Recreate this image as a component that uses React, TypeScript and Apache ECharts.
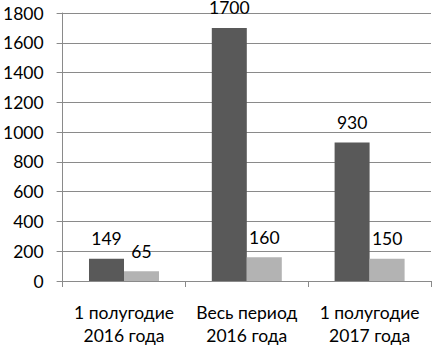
import React, { useEffect, useRef } from "react";
import * as echarts from "echarts";

const categories = ["1 полугодие\n2016 года", "Весь период\n2016 года", "1 полугодие\n2017 года"];
const seriesA = [149, 1700, 930];
const seriesB = [65, 160, 150];
const yMin = 0;
const yMax = 1800;
const yInterval = 200;

export default function App() {
  const ref = useRef<HTMLDivElement>(null);
  useEffect(() => {
    const chart = echarts.init(ref.current!, null, { renderer: "svg" });
    const font = "Lato, 'Open Sans', sans-serif";
    const lineColor = "#8a8a8a";
    chart.setOption({
      animation: false,
      backgroundColor: "#ffffff",
      grid: { left: 59, right: 1, top: 13, bottom: 63 },
      xAxis: {
        type: "category",
        data: categories,
        axisLine: { show: true, lineStyle: { color: lineColor, width: 1 } },
        axisTick: { show: true, length: 6, lineStyle: { color: lineColor } },
        axisLabel: { color: "#000", fontSize: 17.5, fontFamily: font, lineHeight: 23, margin: 20, interval: 0 },
      },
      yAxis: {
        type: "value",
        min: yMin,
        max: yMax,
        interval: yInterval,
        axisLine: { show: true, lineStyle: { color: lineColor, width: 1 } },
        axisTick: { show: true, length: 6, lineStyle: { color: lineColor } },
        splitLine: { show: true, lineStyle: { color: lineColor, width: 1 } },
        axisLabel: { color: "#000", fontSize: 17.5, fontFamily: font, margin: 19, formatter: (v: number) => String(v) },
      },
      series: [
        {
          type: "bar",
          data: seriesA,
          barWidth: 35,
          barGap: "0%",
          itemStyle: { color: "#595959" },
          label: { show: true, position: "top", color: "#000", fontSize: 17.5, fontFamily: font, distance: 11 },
        },
        {
          type: "bar",
          data: seriesB,
          barWidth: 35,
          barGap: "0%",
          itemStyle: { color: "#b3b3b3" },
          label: { show: true, position: "top", color: "#000", fontSize: 17.5, fontFamily: font, distance: 11 },
        },
      ],
    });
    return () => chart.dispose();
  }, []);
  return <div ref={ref} style={{ width: 432, height: 347, position: "absolute", left: 0, top: 0 }} />;
}
